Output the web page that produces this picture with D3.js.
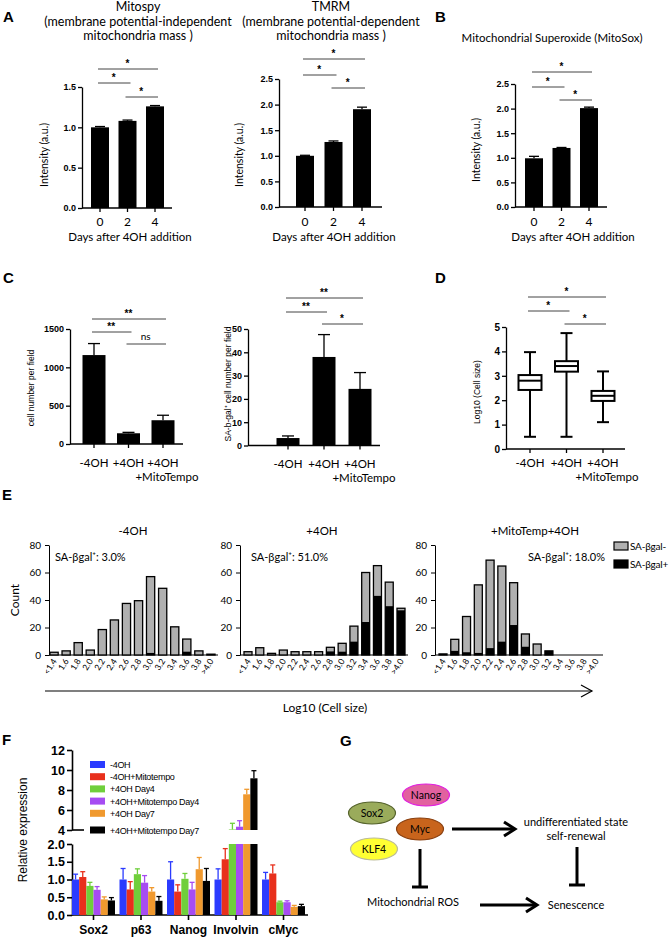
<!DOCTYPE html>
<html>
<head>
<meta charset="utf-8">
<script src="https://cdnjs.cloudflare.com/ajax/libs/d3/7.8.5/d3.min.js"></script>
<style>body{margin:0;background:#fff}</style>
</head>
<body>
<div id="fig"></div>
<script>
// ---------- data ----------
var days = ["0", "2", "4"];
var mitospy = [1.0, 1.08, 1.26], mitospyErr = [0.01, 0.01, 0.01];
var tmrm = [1.0, 1.27, 1.91], tmrmErr = [0.01, 0.02, 0.04];
var mitosox = [0.99, 1.2, 2.01], mitosoxErr = [0.04, 0.01, 0.02];

var treat = ["-4OH", "+4OH", "+4OH\n+MitoTempo"];
var cellNum = [1160, 140, 310], cellNumErr = [150, 12, 65];
var sabgal = [3.2, 38, 24.3], sabgalErr = [0.9, 9.6, 7];

// box plot (Log10 cell size)
var boxMin = [0.5, 0.5, 1.1];
var boxQ1 = [2.42, 3.17, 1.97];
var boxMed = [2.8, 3.4, 2.18];
var boxQ3 = [3.03, 3.6, 2.38];
var boxMax = [3.97, 4.75, 3.18];

// histograms
var bins = ["<1.4", "1.6", "1.8", "2.0", "2.2", "2.4", "2.6", "2.8", "3.0", "3.2", "3.4", "3.6", "3.8", ">4.0"];
var histTotal1 = [2, 3, 9, 3.6, 18.5, 25.5, 37.5, 39.5, 57, 48.5, 20.5, 11.6, 3, 0.6];
var histPos1 = [0, 0, 0, 0, 0, 0, 0, 0, 1.5, 0, 0, 2.4, 0, 0];
var histTotal2 = [2.4, 5.3, 1.2, 3.6, 2.4, 2.4, 2.4, 5.6, 8.5, 21, 60, 65, 53, 34];
var histPos2 = [0, 0, 0, 0, 0, 0, 0, 2.6, 2.4, 9.7, 24, 43, 35.5, 32.5];
var histTotal3 = [0.8, 11.4, 28, 51, 69, 64.7, 52.6, 15.3, 8, 3, 0, 0, 0, 0];
var histPos3 = [0.3, 3, 2, 1.5, 5, 9.7, 21.8, 6, 0, 3, 0, 0, 0, 0];

// qPCR
var genes = ["Sox2", "p63", "Nanog", "Involvin", "cMyc"];
var conds = ["-4OH", "-4OH+Mitotempo", "+4OH Day4", "+4OH+Mitotempo Day4", "+4OH Day7", "+4OH+Mitotempo Day7"];
var condColors = ["#2b3bff", "#e8301c", "#6fcf3b", "#a64cf2", "#f0992e", "#000000"];
var exprM4OH = [1.0, 1.0, 1.0, 1.0, 1.0];
var exprM4OHMito = [1.07, 0.72, 0.66, 1.57, 1.17];
var exprP4OHd4 = [0.82, 1.15, 1.02, 4.05, 0.36];
var exprP4OHMitod4 = [0.71, 0.91, 0.72, 4.33, 0.36];
var exprP4OHd7 = [0.44, 0.66, 1.29, 7.57, 0.23];
var exprP4OHMitod7 = [0.41, 0.40, 0.96, 9.17, 0.25];
var errM4OH = [0.15, 0.31, 0.5, 0.3, 0.2];
var errM4OHMito = [0.15, 0.22, 0.19, 0.3, 0.24];
var errP4OHd4 = [0.1, 0.15, 0.15, 0.62, 0.03];
var errP4OHMitod4 = [0.09, 0.2, 0.2, 0.6, 0.04];
var errP4OHd7 = [0.07, 0.11, 0.33, 0.5, 0.04];
var errP4OHMitod7 = [0.08, 0.12, 0.35, 0.76, 0.05];
var exprSeries = [exprM4OH, exprM4OHMito, exprP4OHd4, exprP4OHMitod4, exprP4OHd7, exprP4OHMitod7];
var errSeries = [errM4OH, errM4OHMito, errP4OHd4, errP4OHMitod4, errP4OHd7, errP4OHMitod7];

// ---------- drawing ----------
var CAL = "Lato, 'Open Sans', sans-serif";
var ARB = "'Liberation Sans', Arial, sans-serif";

var svg = d3.select("#fig").append("svg")
  .attr("width", 670).attr("height", 938)
  .style("background", "#fff");

function txt(g, t, x, y, o) {
  o = o || {};
  var e = g.append("text").attr("x", x).attr("y", y)
    .attr("font-family", o.font || CAL)
    .attr("font-size", o.size || 11)
    .attr("font-weight", o.weight || "normal")
    .attr("text-anchor", o.anchor || "middle")
    .attr("fill", o.fill || "#000")
    .text(t);
  if (o.rotate) e.attr("transform", "rotate(" + o.rotate + "," + x + "," + y + ")");
  return e;
}

function styleAxis(s, font, size, weight, sw) {
  s.select(".domain").attr("stroke-width", sw || 1.3);
  s.selectAll(".tick line").attr("stroke-width", sw || 1.3);
  s.selectAll(".tick text").attr("font-family", font).attr("font-size", size)
    .attr("font-weight", weight).attr("fill", "#000");
}

function sigBrackets(g, x, cats, sig, size) {
  sig.forEach(function (s) {
    g.append("line").attr("x1", x(cats[s[0]]) - 2).attr("x2", x(cats[s[1]]) + 3)
      .attr("y1", s[3]).attr("y2", s[3]).attr("stroke", "#444").attr("stroke-width", 1);
    var mid = (x(cats[s[0]]) + x(cats[s[1]])) / 2;
    txt(g, s[2], mid, s[2] == "ns" ? s[3] - 4 : s[3] - 2, { size: s[2] == "ns" ? 10 : size || 10, font: s[2] == "ns" ? CAL : ARB, weight: s[2] == "ns" ? "normal" : "bold" });
  });
}

function barPanel(o) {
  var g = svg.append("g");
  var y = d3.scaleLinear().domain(o.yDomain).range([o.yBase, o.yTop]);
  var x = d3.scalePoint().domain(o.cats).range([o.c0, o.c1]);

  g.append("g").attr("transform", "translate(" + o.ax + ",0)")
    .call(d3.axisLeft(y).tickValues(o.ticks).tickFormat(o.fmt).tickSize(4).tickSizeOuter(0).tickPadding(2))
    .call(styleAxis, ARB, o.tickSize || 9, "bold");

  g.append("line").attr("x1", o.ax).attr("x2", o.axEnd).attr("y1", y(0)).attr("y2", y(0))
    .attr("stroke", "#000").attr("stroke-width", 1.3);
  g.selectAll(".xt").data(o.cats).join("line")
    .attr("x1", function (d) { return x(d); }).attr("x2", function (d) { return x(d); })
    .attr("y1", y(0)).attr("y2", y(0) + 4).attr("stroke", "#000").attr("stroke-width", 1.3);

  o.cats.forEach(function (c) {
    c.split("\n").forEach(function (l, k) {
      txt(g, l, x(c) + (k ? 4 : 0), y(0) + o.labDy + k * 14, { size: o.labSize || 11.5 });
    });
  });

  g.selectAll(".bar").data(o.vals).join("rect")
    .attr("x", function (d, i) { return x(o.cats[i]) - o.bw / 2; })
    .attr("width", o.bw)
    .attr("y", function (d) { return y(d); })
    .attr("height", function (d) { return y(0) - y(d); })
    .attr("fill", "#000");

  o.vals.forEach(function (v, i) {
    var cx = x(o.cats[i]), top = y(v + o.errs[i]);
    g.append("line").attr("x1", cx).attr("x2", cx).attr("y1", y(v)).attr("y2", top)
      .attr("stroke", "#000").attr("stroke-width", 1.3);
    g.append("line").attr("x1", cx - o.capW / 2).attr("x2", cx + o.capW / 2).attr("y1", top).attr("y2", top)
      .attr("stroke", "#000").attr("stroke-width", 1.3);
  });

  sigBrackets(g, x, o.cats, o.sig, o.sigSize);

  txt(g, o.ytitle, o.ytx, o.yty, { rotate: -90, size: o.ytSize || 10.5, font: o.ytFont || CAL });
  return g;
}

// panel letters
[["A", 3, 22], ["B", 435, 22], ["C", 3, 283], ["D", 435, 283], ["E", 2, 500], ["F", 2, 745], ["G", 340, 746]]
  .forEach(function (p) { txt(svg, p[0], p[1], p[2], { font: ARB, weight: "bold", size: 15, anchor: "start" }); });

// ---- A / B ----
var fmt1 = d3.format(".1f");
[["Mitospy", 138], ["(membrane potential-independent", 138], ["mitochondria mass )", 138],
 ["TMRM", 331], ["(membrane potential-dependent", 331], ["mitochondria mass )", 331]]
  .forEach(function (t, i) { txt(svg, t[0], t[1], 11 + (i % 3) * 14.5, { size: 12.5 }); });
txt(svg, "Mitochondrial Superoxide (MitoSox)", 552, 42, { size: 11.5 });

barPanel({ cats: days, vals: mitospy, errs: mitospyErr, yDomain: [0, 1.5], yBase: 208, yTop: 87,
  ticks: [0, 0.5, 1, 1.5], fmt: fmt1, ax: 82, axEnd: 172, c0: 100, c1: 155, bw: 18, capW: 10, labDy: 18, labSize: 12,
  sig: [[0, 2, "*", 69], [0, 1, "*", 83], [1, 2, "*", 97]], ytitle: "Intensity (a.u.)", ytx: 48, yty: 155 });
barPanel({ cats: days, vals: tmrm, errs: tmrmErr, yDomain: [0, 2.5], yBase: 207, yTop: 79,
  ticks: [0, 0.5, 1, 1.5, 2, 2.5], fmt: fmt1, ax: 279, axEnd: 382, c0: 305, c1: 362, bw: 18, capW: 10, labDy: 19, labSize: 12,
  sig: [[0, 2, "*", 59], [0, 1, "*", 75], [1, 2, "*", 88]], ytitle: "Intensity (a.u.)", ytx: 243, yty: 155 });
barPanel({ cats: days, vals: mitosox, errs: mitosoxErr, yDomain: [0, 2.5], yBase: 207, yTop: 84,
  ticks: [0, 0.5, 1, 1.5, 2, 2.5], fmt: fmt1, ax: 515, axEnd: 607, c0: 534, c1: 589, bw: 18, capW: 10, labDy: 19, labSize: 12,
  sig: [[0, 2, "*", 72], [0, 1, "*", 87], [1, 2, "*", 100]], ytitle: "Intensity (a.u.)", ytx: 480, yty: 150 });
txt(svg, "Days after 4OH addition", 130, 241, { size: 11.5 });
txt(svg, "Days after 4OH addition", 334, 241, { size: 11.5 });
txt(svg, "Days after 4OH addition", 573, 241, { size: 11.5 });

// ---- C ----
barPanel({ cats: treat, vals: cellNum, errs: cellNumErr, yDomain: [0, 1500], yBase: 444, yTop: 329,
  ticks: [0, 500, 1000, 1500], fmt: d3.format("d"), ax: 70, axEnd: 183, c0: 94, c1: 163, bw: 23, capW: 12, labDy: 23, labSize: 11.5,
  sig: [[0, 2, "**", 319], [0, 1, "**", 332], [1, 2, "ns", 344]], ytitle: "cell number per field", ytx: 34, yty: 388, ytSize: 8.5, ytFont: ARB });
barPanel({ cats: treat, vals: sabgal, errs: sabgalErr, yDomain: [0, 50], yBase: 445.5, yTop: 329,
  ticks: [0, 10, 20, 30, 40, 50], fmt: d3.format("d"), ax: 248, axEnd: 380, c0: 288, c1: 360, bw: 23, capW: 12, labDy: 22, labSize: 11.5,
  sig: [[0, 2, "**", 298], [0, 1, "**", 312], [1, 2, "*", 324]], ytitle: "SA-b-gal\u207A cell number per field", ytx: 231, yty: 384, ytSize: 8.5, ytFont: ARB });

// ---- D box plot ----
(function () {
  var g = svg.append("g");
  var y = d3.scaleLinear().domain([0, 5]).range([449, 327]);
  var x = d3.scalePoint().domain(treat).range([530, 603]);
  g.append("g").attr("transform", "translate(506,0)")
    .call(d3.axisLeft(y).ticks(5).tickFormat(d3.format("d")).tickSize(4).tickSizeOuter(0).tickPadding(2))
    .call(styleAxis, ARB, 10, "bold");
  g.append("line").attr("x1", 506).attr("x2", 625).attr("y1", y(0)).attr("y2", y(0)).attr("stroke", "#000").attr("stroke-width", 1.3);
  treat.forEach(function (c, i) {
    var cx = x(c), bw = 23, cw = 12;
    g.append("line").attr("x1", cx).attr("x2", cx).attr("y1", y(0)).attr("y2", y(0) + 4).attr("stroke", "#000").attr("stroke-width", 1.3);
    g.append("line").attr("x1", cx).attr("x2", cx).attr("y1", y(boxMin[i])).attr("y2", y(boxMax[i])).attr("stroke", "#000").attr("stroke-width", 2);
    [boxMin[i], boxMax[i]].forEach(function (v) {
      g.append("line").attr("x1", cx - cw / 2).attr("x2", cx + cw / 2).attr("y1", y(v)).attr("y2", y(v)).attr("stroke", "#000").attr("stroke-width", 2);
    });
    g.append("rect").attr("x", cx - bw / 2).attr("width", bw).attr("y", y(boxQ3[i])).attr("height", y(boxQ1[i]) - y(boxQ3[i]))
      .attr("fill", "#fff").attr("stroke", "#000").attr("stroke-width", 2);
    g.append("line").attr("x1", cx - bw / 2).attr("x2", cx + bw / 2).attr("y1", y(boxMed[i])).attr("y2", y(boxMed[i])).attr("stroke", "#000").attr("stroke-width", 2);
    c.split("\n").forEach(function (l, k) {
      txt(g, l, cx + (k ? 4 : 0), 467 + k * 14, { size: 11.5 });
    });
  });
  sigBrackets(g, x, treat, [[0, 2, "*", 297], [0, 1, "*", 311], [1, 2, "*", 324]]);
  txt(g, "Log10 (Cell size)", 480, 392, { rotate: -90, size: 8.5, font: ARB });
})();

// ---- E histograms ----
function histPanel(o) {
  var g = svg.append("g");
  var y = d3.scaleLinear().domain([0, 80]).range([655, 545]);
  var x = d3.scaleBand().domain(bins).range([o.ax, o.r1]).paddingInner(0.32).paddingOuter(o.po);
  g.append("g").attr("transform", "translate(" + o.ax + ",0)")
    .call(d3.axisLeft(y).tickValues([0, 20, 40, 60, 80]).tickSize(4).tickSizeOuter(0).tickPadding(4))
    .call(styleAxis, CAL, 10, "normal", 1);
  g.append("line").attr("x1", o.ax).attr("x2", o.axEnd).attr("y1", y(0)).attr("y2", y(0)).attr("stroke", "#000").attr("stroke-width", 1);
  g.selectAll(".tot").data(o.total).join("rect")
    .attr("x", function (d, i) { return x(bins[i]); }).attr("width", x.bandwidth())
    .attr("y", function (d) { return y(d); }).attr("height", function (d) { return y(0) - y(d); })
    .attr("fill", "#b0b0b0").attr("stroke", "#000").attr("stroke-width", 1.3);
  g.selectAll(".pos").data(o.pos).join("rect")
    .attr("x", function (d, i) { return x(bins[i]); }).attr("width", x.bandwidth())
    .attr("y", function (d) { return y(d); }).attr("height", function (d) { return y(0) - y(d); })
    .attr("fill", "#000");
  bins.forEach(function (b) {
    txt(g, b, x(b) + x.bandwidth() / 2 + 3, 661, { anchor: "end", rotate: -58, size: 8.5 });
  });
  txt(g, o.title, o.tx, 535, { size: 11.5 });
  txt(g, o.pct, o.px, 561, { size: 11, anchor: "start" });
}
histPanel({ ax: 49, r1: 216, po: 0.08, axEnd: 218, total: histTotal1, pos: histPos1, title: "-4OH", tx: 133, pct: "SA-\u03B2gal\u207A:  3.0%", px: 55 });
histPanel({ ax: 240, r1: 409, po: 0.34, axEnd: 408, total: histTotal2, pos: histPos2, title: "+4OH", tx: 322, pct: "SA-\u03B2gal\u207A:  51.0%", px: 251 });
histPanel({ ax: 435, r1: 604, po: 0.34, axEnd: 603, total: histTotal3, pos: histPos3, title: "+MitoTemp+4OH", tx: 535, pct: "SA-\u03B2gal\u207A:  18.0%", px: 528 });
txt(svg, "Count", 19, 600, { rotate: -90, size: 12 });
// legend
[["SA-\u03B2gal-", "#b0b0b0"], ["SA-\u03B2gal+", "#000"]].forEach(function (l, i) {
  svg.append("rect").attr("x", 614).attr("y", 542 + i * 18).attr("width", 14).attr("height", 8)
    .attr("fill", l[1]).attr("stroke", "#000").attr("stroke-width", 1.2);
  txt(svg, l[0], 630, 550 + i * 18, { anchor: "start", size: 10 }).attr("letter-spacing", -0.2);
});
// long axis arrow
svg.append("line").attr("x1", 45).attr("x2", 592).attr("y1", 691).attr("y2", 691).attr("stroke", "#000").attr("stroke-width", 1.2);
svg.append("polyline").attr("points", "581,685 592,691 581,697").attr("fill", "none").attr("stroke", "#000").attr("stroke-width", 1.2);
txt(svg, "Log10 (Cell size)", 325, 712, { size: 12 });

// ---- F qPCR with broken axis ----
(function () {
  var g = svg.append("g");
  var yLow = d3.scaleLinear().domain([0, 2]).range([915, 844]);
  var yHigh = d3.scaleLinear().domain([4, 12]).range([830, 750]);
  var xG = d3.scaleBand().domain(genes).range([72, 305]).paddingInner(0.095);
  var xC = d3.scaleBand().domain(conds).range([0, xG.bandwidth()]);
  g.append("g").attr("transform", "translate(72,0)")
    .call(d3.axisLeft(yLow).tickValues([0, 0.5, 1, 1.5, 2]).tickFormat(fmt1).tickSize(5).tickSizeOuter(0).tickPadding(2))
    .call(styleAxis, ARB, 12.5, "bold", 1.6);
  g.append("g").attr("transform", "translate(72,0)")
    .call(d3.axisLeft(yHigh).tickValues([4, 6, 8, 10, 12]).tickFormat(d3.format("d")).tickSize(5).tickSizeOuter(0).tickPadding(2))
    .call(styleAxis, ARB, 12.5, "bold", 1.6);
  g.append("line").attr("x1", 72).attr("x2", 84).attr("y1", yHigh(4)).attr("y2", yHigh(4)).attr("stroke", "#000").attr("stroke-width", 1.6);
  g.append("line").attr("x1", 72).attr("x2", 308).attr("y1", yLow(0)).attr("y2", yLow(0)).attr("stroke", "#000").attr("stroke-width", 1.6);
  genes.forEach(function (gn) {
    var cx = xG(gn) + xG.bandwidth() / 2;
    g.append("line").attr("x1", cx).attr("x2", cx).attr("y1", yLow(0)).attr("y2", yLow(0) + 5).attr("stroke", "#000").attr("stroke-width", 1.6);
    txt(g, gn, cx, 934, { font: ARB, weight: "bold", size: 12 });
  });
  exprSeries.forEach(function (ser, s) {
    var col = condColors[s];
    ser.forEach(function (v, i) {
      var bx = xG(genes[i]) + xC(conds[s]), bw = xC.bandwidth(), cx = bx + bw / 2;
      var lowTop = yLow(Math.min(v, 2));
      g.append("rect").attr("x", bx).attr("width", bw).attr("y", lowTop).attr("height", yLow(0) - lowTop).attr("fill", col);
      var top = v + errSeries[s][i], ys, ye;
      if (v > 4) {
        g.append("rect").attr("x", bx).attr("width", bw).attr("y", yHigh(v)).attr("height", yHigh(4) - yHigh(v)).attr("fill", col);
        ys = yHigh(v); ye = yHigh(top);
      } else { ys = yLow(v); ye = yLow(top); }
      g.append("line").attr("x1", cx).attr("x2", cx).attr("y1", ys).attr("y2", ye).attr("stroke", col).attr("stroke-width", 1.3);
      g.append("line").attr("x1", cx - 2.5).attr("x2", cx + 2.5).attr("y1", ye).attr("y2", ye).attr("stroke", col).attr("stroke-width", 1.3);
    });
  });
  conds.forEach(function (c, i) {
    var ly = 761 + i * 12.2 + (i == 5 ? 4.5 : 0);
    g.append("rect").attr("x", 90).attr("y", ly).attr("width", 15).attr("height", 7).attr("fill", condColors[i]);
    txt(g, c, 110, ly + 7, { font: ARB, size: 9, anchor: "start" }).attr("letter-spacing", -0.3);
  });
  txt(g, "Relative expression", 27, 830, { rotate: -90, font: ARB, size: 12 });
})();

// ---- G scheme ----
(function () {
  var g = svg.append("g");
  var nodes = [
    { t: "Nanog", x: 426, y: 795, fill: "#e2619f", stroke: "#e020e0" },
    { t: "Sox2", x: 372, y: 813, fill: "#9aab5b", stroke: "#55632c" },
    { t: "Myc", x: 420, y: 829, fill: "#c8641c", stroke: "#8a4010" },
    { t: "KLF4", x: 374, y: 849, fill: "#ffff33", stroke: "#bbbb99" }
  ];
  nodes.forEach(function (n) {
    g.append("ellipse").attr("cx", n.x).attr("cy", n.y).attr("rx", 23.5).attr("ry", 11)
      .attr("fill", n.fill).attr("stroke", n.stroke).attr("stroke-width", 1.2);
    txt(g, n.t, n.x, n.y + 4, { size: 10.5 });
  });
  function arrow(x1, x2, yy) {
    g.append("line").attr("x1", x1).attr("x2", x2 - 2).attr("y1", yy).attr("y2", yy).attr("stroke", "#000").attr("stroke-width", 3);
    g.append("polyline").attr("points", (x2 - 11) + "," + (yy - 7) + " " + x2 + "," + yy + " " + (x2 - 11) + "," + (yy + 7))
      .attr("fill", "none").attr("stroke", "#000").attr("stroke-width", 3);
  }
  function tbar(xx, y1, y2) {
    g.append("line").attr("x1", xx).attr("x2", xx).attr("y1", y1).attr("y2", y2).attr("stroke", "#000").attr("stroke-width", 3);
    g.append("line").attr("x1", xx - 8).attr("x2", xx + 8).attr("y1", y2).attr("y2", y2).attr("stroke", "#000").attr("stroke-width", 3);
  }
  arrow(452, 515, 829);
  arrow(480, 537, 905);
  tbar(420, 849, 887);
  tbar(577, 847, 885);
  txt(g, "undifferentiated state", 576, 826, { size: 11 });
  txt(g, "self-renewal", 576, 840, { size: 11 });
  txt(g, "Mitochondrial ROS", 413, 906, { size: 11 });
  txt(g, "Senescence", 576, 909, { size: 11 });
})();
</script>
</body>
</html>
